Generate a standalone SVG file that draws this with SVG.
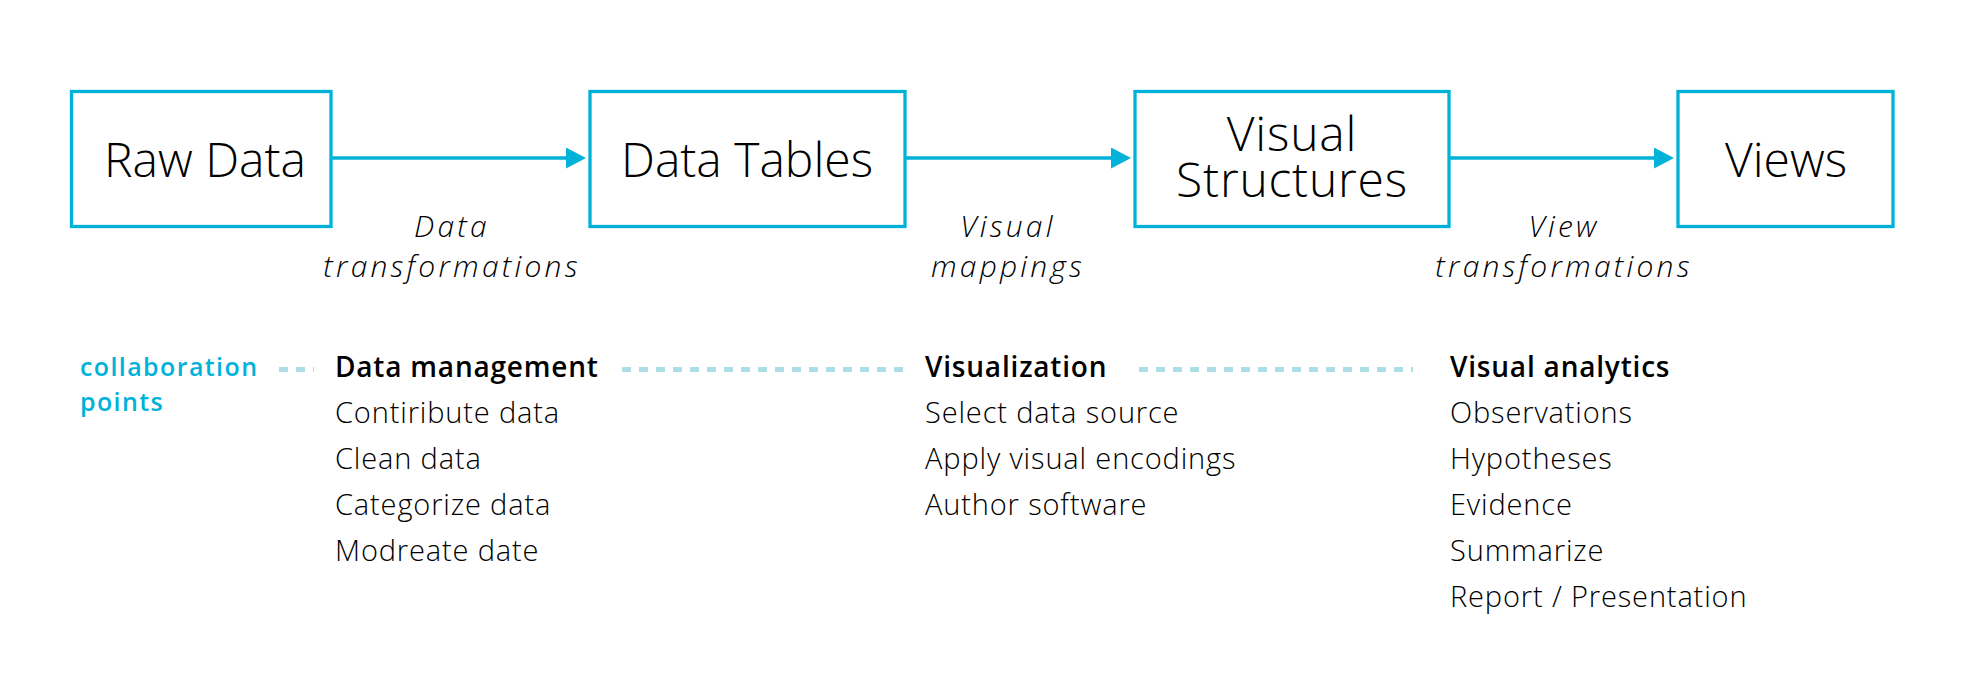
<svg xmlns="http://www.w3.org/2000/svg" width="1979" height="692" viewBox="0 0 1979 692">
  <style>
    .box { fill: #ffffff; stroke: #00b2d9; stroke-width: 3.3; }
    .node-label { font-family: "Open Sans", "Liberation Sans", sans-serif; font-weight: 300; font-size: 48px; fill: #000000; text-anchor: middle; }
    .tight { font-size: 48px; letter-spacing: 0.8px; }
    .edge { stroke: #00b2d9; stroke-width: 3.3; fill: none; }
    .edge-label { font-family: "Open Sans", "Liberation Sans", sans-serif; font-weight: 300; font-style: italic; font-size: 30px; letter-spacing: 3.2px; fill: #000000; text-anchor: middle; }
    .dash { stroke: #a9dfe5; stroke-width: 5; stroke-dasharray: 9 8; fill: none; }
    .head { font-family: "Open Sans", "Liberation Sans", sans-serif; font-weight: 600; font-size: 28px; letter-spacing: 0.8px; fill: #000000; }
    .item { font-family: "Open Sans", "Liberation Sans", sans-serif; font-weight: 300; font-size: 29px; letter-spacing: 0.85px; fill: #000000; }
    .collab { font-family: "Open Sans", "Liberation Sans", sans-serif; font-weight: 600; font-size: 25px; letter-spacing: 1.4px; fill: #00b2d9; }
  </style>
  <defs>
    <marker id="arrow" viewBox="0 0 20 21" markerWidth="20" markerHeight="21" refX="0" refY="10.5" markerUnits="userSpaceOnUse" orient="auto">
      <path d="M0,0 L20,10.5 L0,21 Z" fill="#00b2d9"/>
    </marker>
  </defs>
  <rect width="1979" height="692" fill="#ffffff"/>

  <g id="connectors">
    <line class="edge" x1="331" y1="158" x2="566" y2="158" marker-end="url(#arrow)"/>
    <line class="edge" x1="905" y1="158" x2="1111" y2="158" marker-end="url(#arrow)"/>
    <line class="edge" x1="1449" y1="158" x2="1654" y2="158" marker-end="url(#arrow)"/>
    <g id="edge-label-1">
      <text class="edge-label" x="452" y="237">Data</text>
      <text class="edge-label" x="452" y="277">transformations</text>
    </g>
    <g id="edge-label-2">
      <text class="edge-label" x="1008" y="237">Visual</text>
      <text class="edge-label" x="1008" y="277">mappings</text>
    </g>
    <g id="edge-label-3">
      <text class="edge-label" x="1564" y="237">View</text>
      <text class="edge-label" x="1564" y="277">transformations</text>
    </g>
  </g>

  <g id="node-raw-data">
    <rect class="box" x="71.5" y="91.5" width="259.5" height="135"/>
    <text class="node-label" x="205" y="177">Raw Data</text>
  </g>
  <g id="node-data-tables">
    <rect class="box" x="590" y="91.5" width="315" height="135"/>
    <text class="node-label" x="747" y="177">Data Tables</text>
  </g>
  <g id="node-visual-structures">
    <rect class="box" x="1135" y="91.5" width="314" height="135"/>
    <text class="node-label tight" x="1292" y="151">Visual</text>
    <text class="node-label tight" x="1292" y="197">Structures</text>
  </g>
  <g id="node-views">
    <rect class="box" x="1678" y="91.5" width="215" height="135"/>
    <text class="node-label" x="1786" y="177">Views</text>
  </g>

  <g id="collaboration-points">
    <text class="collab" x="80" y="376">collaboration</text>
    <text class="collab" x="80" y="411">points</text>
    <line class="dash" x1="279" y1="369.5" x2="314" y2="369.5"/>
    <line class="dash" x1="622" y1="369.5" x2="909" y2="369.5"/>
    <line class="dash" x1="1139" y1="369.5" x2="1413" y2="369.5"/>
  </g>

  <g id="data-management">
    <text class="head" x="335" y="377">Data management</text>
    <text class="item" x="335" y="423">Contiribute data</text>
    <text class="item" x="335" y="469">Clean data</text>
    <text class="item" x="335" y="515">Categorize data</text>
    <text class="item" x="335" y="561">Modreate date</text>
  </g>

  <g id="visualization">
    <text class="head" x="925" y="377">Visualization</text>
    <text class="item" x="925" y="423">Select data source</text>
    <text class="item" x="925" y="469">Apply visual encodings</text>
    <text class="item" x="925" y="515">Author software</text>
  </g>

  <g id="visual-analytics">
    <text class="head" x="1450" y="377">Visual analytics</text>
    <text class="item" x="1450" y="423">Observations</text>
    <text class="item" x="1450" y="469">Hypotheses</text>
    <text class="item" x="1450" y="515">Evidence</text>
    <text class="item" x="1450" y="561">Summarize</text>
    <text class="item" x="1450" y="607">Report / Presentation</text>
  </g>
</svg>
